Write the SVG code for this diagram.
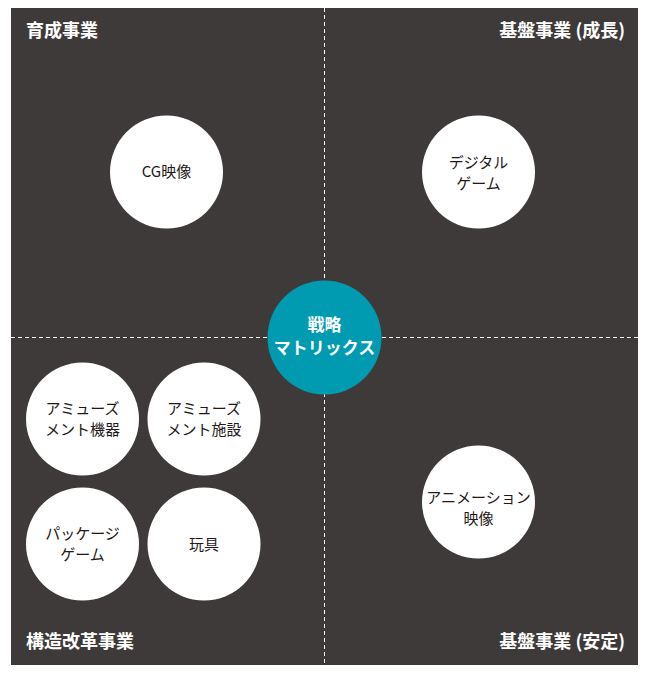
<svg xmlns="http://www.w3.org/2000/svg" width="650" height="681" viewBox="0 0 650 681">
<style>
.bg{fill:#3e3a39}
.dash{stroke:#ffffff;stroke-width:1;stroke-dasharray:4 3;fill:none}
.node{fill:#ffffff}
.center{fill:#009bb1}
.nt{font-family:"Noto Sans CJK JP","Noto Sans",sans-serif;font-size:15px;fill:#231815;text-anchor:middle}
.lbl{font-family:"Noto Sans CJK JP","Noto Sans",sans-serif;font-size:18px;font-weight:bold;fill:#ffffff}
.ct{font-family:"Noto Sans CJK JP","Noto Sans",sans-serif;font-size:17px;font-weight:bold;fill:#ffffff;text-anchor:middle}
</style>
<rect class="bg" x="11" y="8" width="627" height="657"/>
<g id="connectors">
<line class="dash" x1="324.5" y1="8" x2="324.5" y2="665"/>
<line class="dash" x1="11" y1="337.5" x2="638" y2="337.5"/>
</g>
<g id="labels">
<text class="lbl" x="26" y="37">育成事業</text>
<text class="lbl" x="625" y="37" text-anchor="end">基盤事業 (成長)</text>
<text class="lbl" x="26" y="648">構造改革事業</text>
<text class="lbl" x="625" y="648" text-anchor="end">基盤事業 (安定)</text>
</g>
<g id="node-cg">
<circle class="node" cx="166.5" cy="172" r="56.5"/>
<text class="nt" x="166.5" y="177">CG映像</text>
</g>
<g id="node-digital">
<circle class="node" cx="478.5" cy="172" r="56.5"/>
<text class="nt"><tspan x="478.5" y="168">デジタル</tspan><tspan x="478.5" y="189">ゲーム</tspan></text>
</g>
<g id="node-center">
<circle class="center" cx="324.5" cy="337.5" r="57"/>
<text class="ct"><tspan x="324.5" y="331">戦略</tspan><tspan x="324.5" y="354">マトリックス</tspan></text>
</g>
<g id="node-amuse-machine">
<circle class="node" cx="82.5" cy="419" r="56.5"/>
<text class="nt"><tspan x="82.5" y="414">アミューズ</tspan><tspan x="82.5" y="435">メント機器</tspan></text>
</g>
<g id="node-amuse-facility">
<circle class="node" cx="204" cy="419" r="56.5"/>
<text class="nt"><tspan x="204" y="414">アミューズ</tspan><tspan x="204" y="435">メント施設</tspan></text>
</g>
<g id="node-package">
<circle class="node" cx="82.5" cy="544" r="56.5"/>
<text class="nt"><tspan x="82.5" y="539">パッケージ</tspan><tspan x="82.5" y="560">ゲーム</tspan></text>
</g>
<g id="node-toy">
<circle class="node" cx="204" cy="544" r="56.5"/>
<text class="nt" x="204" y="550">玩具</text>
</g>
<g id="node-anime">
<circle class="node" cx="478.5" cy="502" r="56.5"/>
<text class="nt"><tspan x="478.5" y="503">アニメーション</tspan><tspan x="478.5" y="524">映像</tspan></text>
</g>
</svg>
